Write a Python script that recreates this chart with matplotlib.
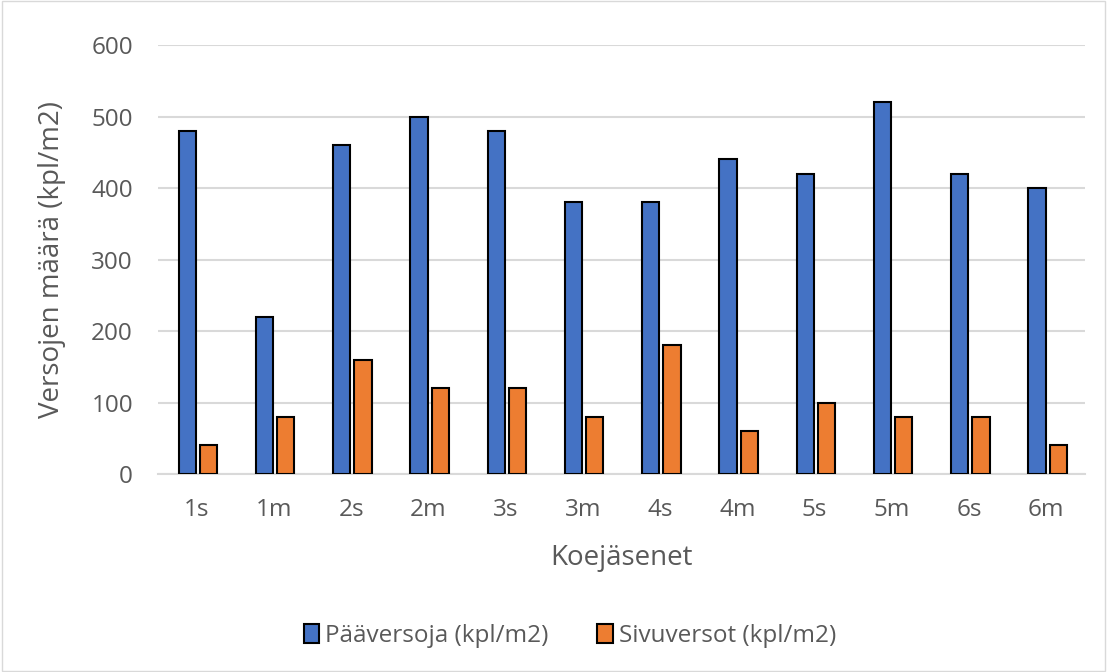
import matplotlib
matplotlib.use("Agg")
import matplotlib.pyplot as plt
import numpy as np
from matplotlib.patches import Rectangle

categories = ["1s", "1m", "2s", "2m", "3s", "3m", "4s", "4m", "5s", "5m", "6s", "6m"]
paaversoja = [480, 220, 460, 500, 480, 380, 380, 440, 420, 520, 420, 400]
sivuversot = [40, 80, 160, 120, 120, 80, 180, 60, 100, 80, 80, 40]
yticks = [0, 100, 200, 300, 400, 500, 600]

plt.rcParams['font.family'] = ['Open Sans', 'DejaVu Sans']
fig = plt.figure(figsize=(11.07, 6.72), dpi=100)
ax = fig.add_axes([0.1427, 0.2946, 0.8373, 0.6384])

x = np.arange(len(categories))
w = 0.225
ax.bar(x - 0.12, paaversoja, w, color="#4472C4", edgecolor="black", linewidth=1.5,
       label="Pääversoja (kpl/m2)", zorder=3)
ax.bar(x + 0.155, sivuversot, w, color="#ED7D31", edgecolor="black", linewidth=1.5,
       label="Sivuversot (kpl/m2)", zorder=3)

ax.set_xlim(-0.5, len(categories) - 0.5)
ax.set_ylim(0, 600)
ax.set_yticks(yticks)
ax.set_xticks(x)
ax.set_xticklabels(categories)
ax.grid(axis="y", color="#D9D9D9", linewidth=1.5, zorder=0)
for s in ["top", "right", "left"]:
    ax.spines[s].set_visible(False)
ax.spines["bottom"].set_color("#D9D9D9")
ax.spines["bottom"].set_linewidth(1.5)
ax.tick_params(axis="both", length=0, labelsize=17.5, labelcolor="#595959")
ax.tick_params(axis="y", pad=18)
ax.tick_params(axis="x", pad=17)
ax.set_ylabel("Versojen määrä (kpl/m2)", fontsize=20, color="#595959", labelpad=18)
ax.set_xlabel("Koejäsenet", fontsize=20, color="#595959", labelpad=16)

leg = fig.legend(loc="center", bbox_to_anchor=(0.515, 0.054), ncol=2, frameon=False,
                 fontsize=17.5, handlelength=0.65, handleheight=0.8, handletextpad=0.25,
                 columnspacing=2.0)
for t in leg.get_texts():
    t.set_color("#595959")

fig.patches.append(Rectangle((0.002, 0.002), 0.996, 0.996, transform=fig.transFigure,
                             fill=False, edgecolor="#D9D9D9", linewidth=1))
fig.savefig("out.png", dpi=100)
